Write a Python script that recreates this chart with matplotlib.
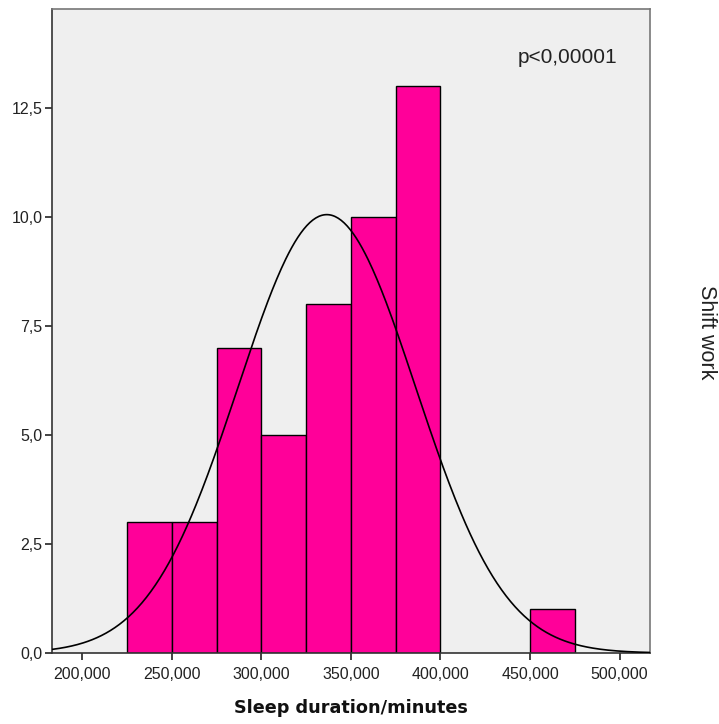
import numpy as np
import matplotlib
matplotlib.use("Agg")
import matplotlib.pyplot as plt
from matplotlib.ticker import FuncFormatter

plt.rcParams['font.family'] = ['Liberation Sans', 'DejaVu Sans']

# histogram of sleep duration (minutes), bins of 25
bin_left = [225, 250, 275, 300, 325, 350, 375, 450]
counts = [3, 3, 7, 5, 8, 10, 13, 1]
bin_width = 25

# normal curve parameters
mean_sleep = 336.5
sd_sleep = 49.6
n_total = sum(counts)

x_ticks = [200, 250, 300, 350, 400, 450, 500]
y_ticks = [0, 2.5, 5.0, 7.5, 10.0, 12.5]

fig = plt.figure(figsize=(7.19, 7.24), dpi=100)
ax = fig.add_axes([0.0723, 0.098, 0.8317, 0.8896])
ax.set_facecolor('#efefef')

ax.bar(bin_left, counts, width=bin_width, align='edge',
       color='#ff0099', edgecolor='black', linewidth=1.0, zorder=2)

xmin, xmax = 183.0, 517.0
xs = np.linspace(xmin, xmax, 400)
ys = n_total * bin_width * np.exp(-0.5 * ((xs - mean_sleep) / sd_sleep) ** 2) / (sd_sleep * np.sqrt(2 * np.pi))
ax.plot(xs, ys, color='black', linewidth=1.2, zorder=3)

ax.set_xlim(xmin, xmax)
ax.set_ylim(0, 14.77)
ax.set_xticks(x_ticks)
ax.set_yticks(y_ticks)
ax.xaxis.set_major_formatter(FuncFormatter(lambda v, p: f"{int(v)},000"))
ax.yaxis.set_major_formatter(FuncFormatter(lambda v, p: f"{v:.1f}".replace(".", ",")))
ax.tick_params(axis='both', direction='out', length=5, width=1.2, labelsize=11.5,
               colors='#222222')
ax.tick_params(axis='x', pad=5)
ax.tick_params(axis='y', pad=2)

for side in ['top', 'right']:
    ax.spines[side].set_color('#777777')
    ax.spines[side].set_linewidth(1.2)
for side in ['left', 'bottom']:
    ax.spines[side].set_color('#333333')
    ax.spines[side].set_linewidth(1.2)

ax.set_xlabel('Sleep duration/minutes', fontsize=12.7, fontweight='bold',
              family='DejaVu Sans', labelpad=12, color='#111111')

ax.text(0.946, 0.925, 'p<0,00001', transform=ax.transAxes, ha='right', va='center',
        fontsize=15, color='#222222')
fig.text(0.982, 0.541, 'Shift work', rotation=-90, ha='center', va='center',
         fontsize=15.5, color='#222222')

fig.savefig('out.png', dpi=100, facecolor='white')
